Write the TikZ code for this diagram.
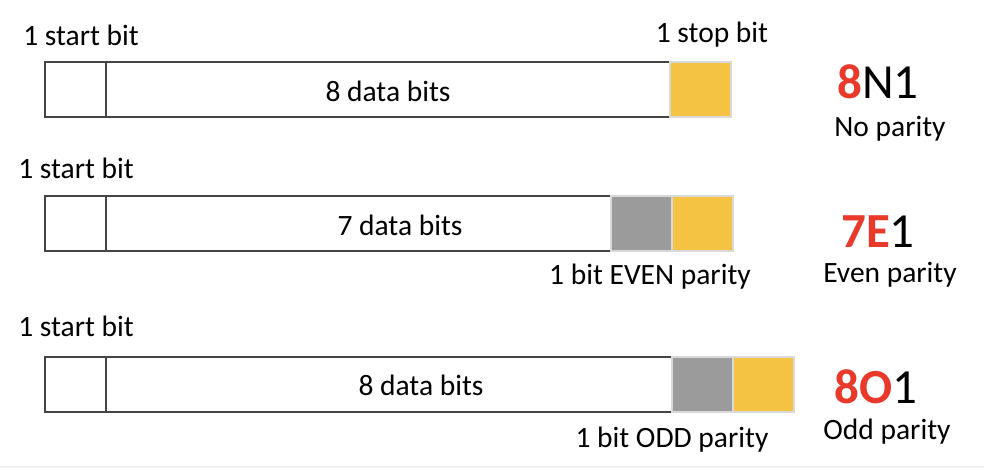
\documentclass[tikz,border=0pt]{standalone}
\usepackage{fontspec}
\setmainfont{Carlito}
\definecolor{framegray}{HTML}{444444}
\definecolor{stopyellow}{HTML}{F4C343}
\definecolor{paritygray}{HTML}{9B9B9B}
\definecolor{cellborder}{HTML}{D9D9D9}
\definecolor{codered}{HTML}{E8392A}
\definecolor{bottomrule}{HTML}{EEEEEE}
\begin{document}
\begin{tikzpicture}[x=1pt,y=-1pt,
  cell/.style={rectangle,draw=framegray,line width=2pt,inner sep=0pt,outer sep=0pt,anchor=north west,minimum height=55pt},
  colorcell/.style={rectangle,draw=cellborder,line width=2.5pt,inner sep=0pt,outer sep=0pt,anchor=north west,minimum height=55pt,minimum width=61pt},
  lbl/.style={font=\fontsize{29.5}{32}\selectfont,inner sep=0pt},
  big/.style={font=\fontsize{49}{52}\selectfont,inner sep=0pt},
  sub/.style={font=\fontsize{29.5}{32}\selectfont,inner sep=0pt}]
\useasboundingbox (0,0) rectangle (984,470);
\fill[white] (0,0) rectangle (984,470);
\draw[bottomrule,line width=2pt] (0,467) -- (984,467);
% Row 1
\node[cell,minimum width=61pt] (s1) at (45,62) {};
\node[cell,minimum width=564pt] (d1) at (106,62) {};
\node[colorcell,fill=stopyellow] (y1) at (670,62) {};
\node[lbl] (ls1) at (81,35) {1 start bit};
\node[lbl] (lp1) at (712,35) {1 stop bit};
\node[lbl] (t1) at (388,91) {8 data bits};
\node[big,anchor=west] (c1) at (837,82) {\textcolor{codered}{\bfseries 8}N1};
\node[sub] (n1) at (890,129) {No parity};
% Row 2
\node[cell,minimum width=61pt] (s2) at (45,196) {};
\node[cell,minimum width=505pt] (d2) at (106,196) {};
\node[colorcell,fill=paritygray] (g2) at (611,196) {};
\node[colorcell,fill=stopyellow] (y2) at (672,196) {};
\node[lbl] (ls2) at (76,168) {1 start bit};
\node[lbl] (t2) at (400,225) {7 data bits};
\node[lbl] (lp2) at (650,277) {1 bit EVEN parity};
\node[big,anchor=west] (c2) at (841,232) {\textcolor{codered}{\bfseries 7E}1};
\node[sub] (n2) at (890,275) {Even parity};
% Row 3
\node[cell,minimum width=61pt] (s3) at (45,357) {};
\node[cell,minimum width=566pt] (d3) at (106,357) {};
\node[colorcell,fill=paritygray] (g3) at (672,357) {};
\node[colorcell,fill=stopyellow] (y3) at (733,357) {};
\node[lbl] (ls3) at (76,326) {1 start bit};
\node[lbl] (t3) at (421,385) {8 data bits};
\node[lbl] (lp3) at (672,440) {1 bit ODD parity};
\node[big,anchor=west] (c3) at (834,387) {\textcolor{codered}{\bfseries 8O}1};
\node[sub] (n3) at (887,432) {Odd parity};
\end{tikzpicture}
\end{document}
